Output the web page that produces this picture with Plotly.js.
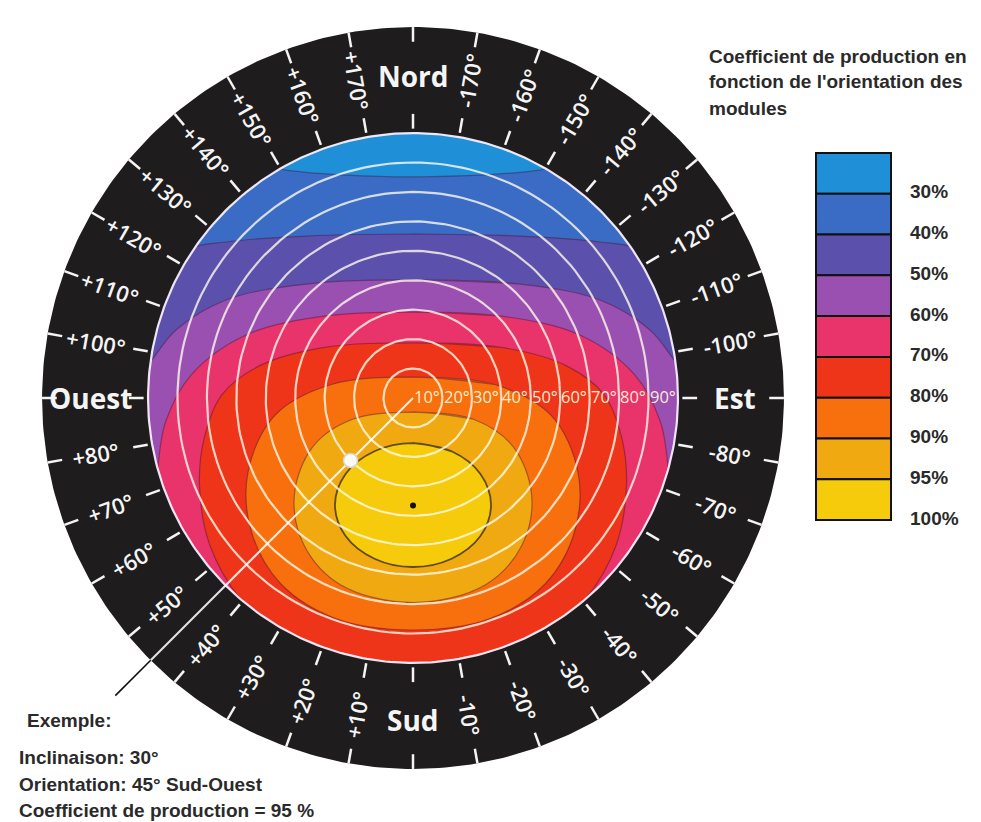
<!DOCTYPE html>
<html><head><meta charset="utf-8">
<script src="https://cdn.plot.ly/plotly-3.0.1.min.js"></script>
<style>html,body{margin:0;padding:0;background:#fff}#chart{width:981px;height:822px}</style>
</head><body><div id="chart"></div>
<script>
// ---------- DATA ----------
// production levels and their colours (legend order, top to bottom)
const levels = ["30%","40%","50%","60%","70%","80%","90%","95%","100%"];
const levelColors = ["#1f8fd8","#3a6cc6","#5b50ac","#9a50b1","#e8336b","#ef3519","#f8700e","#f1a911","#f5cb0c"];

// iso-production boundaries, east half, in tilt-degree units (x = east, y = north),
// read from the picture, top of the curve first; parts beyond 90° lie under the ring
const c40x = [0, 22.8, 43.1, 56.7, 85, 105, 74, 0];
const c40y = [75.1, 75.7, 77.4, 80.2, 62, 0, -74, -105];
const c50x = [0, 36.3, 63.5, 77.1, 100, 99, 74, 0];
const c50y = [55.7, 55.0, 53.0, 50.3, 32, -35, -74, -105];
const c60x = [0, 36.3, 63.5, 80.5, 90, 104, 99, 74, 0];
const c60y = [40.1, 38.7, 33.3, 23.1, 11.2, -5, -35, -74, -105];
const c70x = [0, 29.6, 56.7, 75.4, 84, 86.5, 87.5, 95, 68, 0];
const c70y = [29.2, 27.9, 21.4, 7.8, -8, -22, -36, -58, -82, -105];
const c80x = [0, 30, 52, 65, 71, 72.5, 69, 58.4, 43.1, 22.8, 0];
const c80y = [18.7, 17.2, 11, 1, -14, -30, -50, -68.6, -82.2, -91.7, -94.1];
const c90x = [0, 28, 47, 56, 55, 45, 26, 0];
const c90y = [7.1, 4.5, -6, -25, -45, -63, -75, -78.8];
const c95x = [0, 20.5, 34, 40.3, 37, 24.5, 0];
const c95y = [-4.8, -7.2, -16.5, -33, -50, -63.5, -69.5];
const c100x = [0, 13.1, 22.9, 26.5, 22.9, 13.1, 0];
const c100y = [-15.3, -18.1, -25.8, -36.3, -46.9, -54.6, -57.4];

// tilt circles
const tilts = [10, 20, 30, 40, 50, 60, 70, 80, 90];
const tiltLabels = ["10°","20°","30°","40°","50°","60°","70°","80°","90°"];

// orientation ring (azimuth, + = west, 0 = south)
const ringAz = [0,10,20,30,40,50,60,70,80,90,100,110,120,130,140,150,160,170,180,
                -170,-160,-150,-140,-130,-120,-110,-100,-90,-80,-70,-60,-50,-40,-30,-20,-10];
const ringText = ["Sud","+10°","+20°","+30°","+40°","+50°","+60°","+70°","+80°","Ouest","+100°","+110°","+120°","+130°","+140°","+150°","+160°","+170°","Nord",
                  "-170°","-160°","-150°","-140°","-130°","-120°","-110°","-100°","Est","-80°","-70°","-60°","-50°","-40°","-30°","-20°","-10°"];

// example and optimum
const exampleTilt = [30], exampleAz = [45];
const optimumTilt = [36.5], optimumAz = [0];

const titleLines = ["Coefficient de production en", "fonction de l'orientation des", "modules"];
const exampleLines = ["Exemple:", "Inclinaison: 30°", "Orientation: 45° Sud-Ouest", "Coefficient de production = 95 %"];

// ---------- HELPERS ----------
const D = Math.PI / 180;
const pol = (az, r) => [-r * Math.sin(az * D), -r * Math.cos(az * D)];
function circle(r, step) {
  const x = [], y = [];
  for (let t = 0; t <= 360; t += step) { x.push(r * Math.cos(t * D)); y.push(r * Math.sin(t * D)); }
  return [x, y];
}
function closeSym(xs, ys) {
  const X = xs.slice(), Y = ys.slice();
  for (let i = xs.length - 2; i >= 1; i--) { X.push(-xs[i]); Y.push(ys[i]); }
  X.push(X[0], X[1]); Y.push(Y[0], Y[1]);
  return [X, Y];
}

const R_DISC = 90, R_OUT = 126;
const traces = [];

// base disc = lowest level
const [dx, dy] = circle(R_DISC, 2);
traces.push({x: dx, y: dy, mode: 'lines', fill: 'toself', fillcolor: levelColors[0], line: {width: 0}, hoverinfo: 'skip'});

const contours = [[c40x,c40y],[c50x,c50y],[c60x,c60y],[c70x,c70y],[c80x,c80y],[c90x,c90y],[c95x,c95y],[c100x,c100y]];
contours.forEach((c, i) => {
  const [X, Y] = closeSym(c[0], c[1]);
  const last = i === contours.length - 1;
  traces.push({x: X, y: Y, mode: 'lines', fill: 'toself', fillcolor: levelColors[i + 1],
    line: {shape: 'spline', smoothing: 1, width: last ? 1.8 : 1.2, color: last ? 'rgba(70,55,20,0.85)' : 'rgba(70,20,50,0.45)'},
    hoverinfo: 'skip'});
});

// black ring (annulus)
{
  const [ox, oy] = circle(R_OUT, 1);
  const [ix, iy] = circle(R_DISC, 1);
  traces.push({x: ox.concat(ix.slice().reverse()), y: oy.concat(iy.slice().reverse()), mode: 'lines', fill: 'toself',
    fillcolor: '#1e1c1d', line: {width: 0}, hoverinfo: 'skip'});
}

// tilt circles
{
  const x = [], y = [];
  tilts.slice(0, -1).forEach(t => { const [cx, cy] = circle(t, 2); x.push(...cx, null); y.push(...cy, null); });
  traces.push({x, y, mode: 'lines', line: {color: 'rgba(255,250,235,0.8)', width: 2.2}, hoverinfo: 'skip'});
  const [ex, ey] = circle(tilts[tilts.length - 1], 1);
  traces.push({x: ex, y: ey, mode: 'lines', line: {color: 'rgba(248,238,255,0.95)', width: 2.2}, hoverinfo: 'skip'});
}

// ring ticks
{
  const x = [], y = [];
  ringAz.forEach(a => {
    [[91.5, 96.5], [121, 126]].forEach(([r0, r1]) => {
      const p0 = pol(a, r0), p1 = pol(a, r1);
      x.push(p0[0], p1[0], null); y.push(p0[1], p1[1], null);
    });
  });
  traces.push({x, y, mode: 'lines', line: {color: '#f4f4f4', width: 2.5}, hoverinfo: 'skip'});
}

// example orientation line
{
  const p = pol(exampleAz[0], R_OUT), q = pol(exampleAz[0], 143);
  traces.push({x: [0, p[0]], y: [0, p[1]], mode: 'lines', line: {color: 'rgba(255,255,255,0.88)', width: 2}, hoverinfo: 'skip'});
  traces.push({x: [p[0], q[0]], y: [p[1], q[1]], mode: 'lines', line: {color: '#111', width: 1.6}, hoverinfo: 'skip'});
}
// example point and optimum dot
{
  const e = pol(exampleAz[0], exampleTilt[0]);
  traces.push({x: [e[0]], y: [e[1]], mode: 'markers', marker: {size: 14, color: '#fbfbf5', line: {color: '#d8d4c8', width: 1.5}}, hoverinfo: 'skip'});
  const o = pol(optimumAz[0], optimumTilt[0]);
  traces.push({x: [o[0]], y: [o[1]], mode: 'markers', marker: {size: 6, color: '#111'}, hoverinfo: 'skip'});
}

// ---------- ANNOTATIONS ----------
const ann = [];
ringAz.forEach((a, i) => {
  const big = (a === 0 || a === 180 || a === 90 || a === -90);
  const p = pol(a, 109.5);
  let ang = 0;
  if (!big) {
    const s = Math.sin(a * D), c = Math.cos(a * D);
    ang = a > 0 ? Math.atan2(-c, s) / D : Math.atan2(c, -s) / D;
  }
  ann.push({x: p[0], y: p[1], xref: 'x', yref: 'y', text: ringText[i], showarrow: false, textangle: ang,
    xanchor: 'center', yanchor: 'middle',
    font: {family: 'Open Sans', size: big ? 28 : 22, weight: big ? 700 : 600, color: '#f5f5f5'}});
});
tilts.forEach((t, i) => {
  ann.push({x: t - 0.1, y: 0.4, xref: 'x', yref: 'y', text: tiltLabels[i], showarrow: false, xanchor: 'right', yanchor: 'middle',
    font: {family: 'Open Sans', size: 16.5, color: 'rgba(255,246,222,0.95)'}});
});

const W = 981, H = 822;
const px = v => v / W, py = v => 1 - v / H;
titleLines.forEach((t, i) => {
  ann.push({x: px(707), y: py(56 + 26 * i), xref: 'paper', yref: 'paper', text: '<b>' + t + '</b>', showarrow: false,
    xanchor: 'left', yanchor: 'middle', font: {family: 'Liberation Sans', size: 19, color: '#2a2a2a'}});
});
const exY = [720, 757, 784, 810], exX = [25, 17, 17, 17];
exampleLines.forEach((t, i) => {
  ann.push({x: px(exX[i]), y: py(exY[i]), xref: 'paper', yref: 'paper', text: '<b>' + t + '</b>', showarrow: false,
    xanchor: 'left', yanchor: 'middle', font: {family: 'Liberation Sans', size: 19, color: '#2a2a2a'}});
});

// legend swatches
const shapes = [];
const LT = 153, LB = 520, LX0 = 816, LX1 = 891;
const bh = (LB - LT) / levels.length;
levels.forEach((l, i) => {
  const t = LT + i * bh, b = t + bh;
  shapes.push({type: 'rect', xref: 'paper', yref: 'paper', x0: px(LX0), x1: px(LX1), y0: py(b), y1: py(t),
    fillcolor: levelColors[i], line: {color: '#111', width: 2}, layer: 'above'});
  ann.push({x: px(908), y: py(b - 2), xref: 'paper', yref: 'paper', text: '<b>' + l + '</b>', showarrow: false,
    xanchor: 'left', yanchor: 'middle', font: {family: 'Liberation Sans', size: 19, color: '#2a2a2a'}});
});

const K = 2.944, CX = 413, CY = 398;
const layout = {
  width: W, height: H, margin: {l: 0, r: 0, t: 0, b: 0},
  paper_bgcolor: '#fff', plot_bgcolor: '#fff', showlegend: false, hovermode: false,
  xaxis: {range: [(0 - CX) / K, (W - CX) / K], visible: false, fixedrange: true},
  yaxis: {range: [(CY - H) / K, CY / K], visible: false, fixedrange: true},
  annotations: ann, shapes: shapes
};
Plotly.newPlot('chart', traces, layout, {staticPlot: true, displayModeBar: false});
</script></body></html>
